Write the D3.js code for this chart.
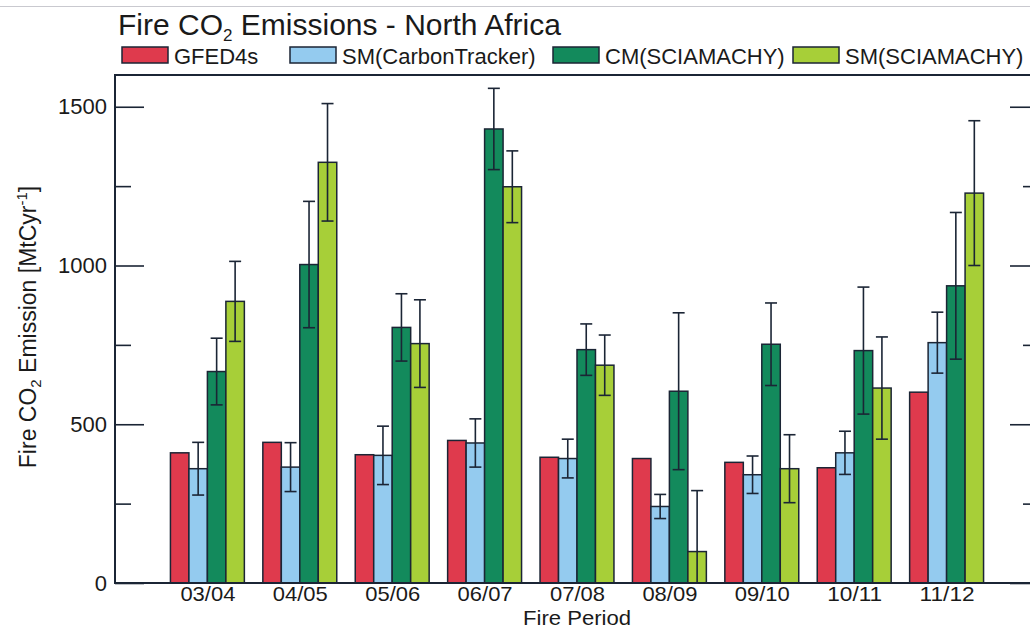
<!DOCTYPE html>
<html>
<head>
<meta charset="utf-8">
<script src="https://cdn.jsdelivr.net/npm/d3@7"></script>
<style>
  html, body { margin: 0; padding: 0; background: #ffffff; }
  svg { display: block; font-family: "Liberation Sans", Arial, Helvetica, sans-serif; }
</style>
</head>
<body>
<svg id="chart" width="1030" height="629"></svg>
<script>
// Fire periods (July–June seasons)
const categories = ["03/04", "04/05", "05/06", "06/07", "07/08", "08/09", "09/10", "10/11", "11/12"];

// Fire CO2 emissions, MtC/yr
const gfed4s       = [410, 443, 404, 449, 396, 392, 380, 363, 601];
const smCT         = [360, 365, 402, 441, 392, 241, 341, 410, 757];
const smCTErr      = [83, 77, 92, 76, 61, 38, 59, 68, 96];
const cmSCIA       = [666, 1003, 805, 1430, 735, 604, 752, 732, 936];
const cmSCIAErr    = [105, 199, 106, 128, 81, 247, 130, 200, 231];
const smSCIA       = [887, 1325, 754, 1248, 686, 99, 360, 614, 1228];
const smSCIAErr    = [126, 185, 138, 113, 95, 192, 107, 161, 228];

const seriesNames  = ["GFED4s", "SM(CarbonTracker)", "CM(SCIAMACHY)", "SM(SCIAMACHY)"];
const majorTicks   = [0, 500, 1000, 1500];
const minorTicks   = [250, 750, 1250];

const series = [
  { name: seriesNames[0], values: gfed4s, errors: null,      color: "#df3a4d" },
  { name: seriesNames[1], values: smCT,   errors: smCTErr,   color: "#94cbef" },
  { name: seriesNames[2], values: cmSCIA, errors: cmSCIAErr, color: "#138a5c" },
  { name: seriesNames[3], values: smSCIA, errors: smSCIAErr, color: "#a7cf38" }
];

const svg = d3.select("#chart");
const frame = { left: 115, right: 1039, top: 75, bottom: 583 };
const ink = "#1b2535";
const textInk = "#1a1a1a";

// x: categories sit at 1..N on a 0..N+1 axis; four bars fill 0.8 of each slot
const x = d3.scaleLinear().domain([0, categories.length + 1]).range([frame.left, frame.right]);
const y = d3.scaleLinear().domain([0, 1600]).range([frame.bottom, frame.top]);
const slot = x(1) - x(0);
const barW = slot * 0.2;

// faint page rule at the very top
svg.append("line")
  .attr("x1", 0).attr("x2", 1030).attr("y1", 6.5).attr("y2", 6.5)
  .attr("stroke", "#c9c9cf").attr("stroke-width", 1);

// title with subscript
const title = svg.append("text")
  .attr("x", 118).attr("y", 35)
  .attr("font-size", 30).attr("fill", textInk);
title.append("tspan").text("Fire CO");
title.append("tspan").attr("font-size", 17).attr("dy", 6).text("2");
title.append("tspan").attr("dy", -6).text(" Emissions - North Africa");

// legend
const legendX = [122, 290, 553, 793];
const legend = svg.append("g");
series.forEach((s, i) => {
  const g = legend.append("g").attr("transform", `translate(${legendX[i]},47)`);
  g.append("rect").attr("width", 46).attr("height", 16)
    .attr("fill", s.color).attr("stroke", ink).attr("stroke-width", 1.5);
  g.append("text").attr("x", 52).attr("y", 17)
    .attr("font-size", 22).attr("fill", textInk).text(s.name);
});

// bars
const groups = svg.append("g");
series.forEach((s, si) => {
  groups.selectAll(null)
    .data(s.values)
    .join("rect")
    .attr("x", (d, i) => x(i + 1) - 2 * barW + si * barW)
    .attr("y", d => y(d))
    .attr("width", barW)
    .attr("height", d => y(0) - y(d))
    .attr("fill", s.color)
    .attr("stroke", ink)
    .attr("stroke-width", 1.5);
});

// error bars
const capHalf = 6;
series.forEach((s, si) => {
  if (!s.errors) return;
  s.values.forEach((v, i) => {
    const cx = x(i + 1) - 2 * barW + si * barW + barW / 2;
    const hi = v + s.errors[i];
    const lo = Math.max(0, v - s.errors[i]);
    const g = svg.append("g").attr("stroke", ink).attr("stroke-width", 1.6);
    g.append("line").attr("x1", cx).attr("x2", cx).attr("y1", y(hi)).attr("y2", y(lo));
    g.append("line").attr("x1", cx - capHalf).attr("x2", cx + capHalf).attr("y1", y(hi)).attr("y2", y(hi));
    if (lo > 0) {
      g.append("line").attr("x1", cx - capHalf).attr("x2", cx + capHalf).attr("y1", y(lo)).attr("y2", y(lo));
    }
  });
});

// frame
svg.append("path")
  .attr("d", `M${frame.right},${frame.top}H${frame.left}V${frame.bottom}H${frame.right}V${frame.top}`)
  .attr("fill", "none").attr("stroke", ink).attr("stroke-width", 2);

// inward ticks on left and right axes
const leftMajor = d3.axisRight(y).tickValues(majorTicks).tickSize(29).tickFormat("");
const leftMinor = d3.axisRight(y).tickValues(minorTicks).tickSize(16).tickFormat("");
const rightMajor = d3.axisLeft(y).tickValues(majorTicks).tickSize(29).tickFormat("");
const rightMinor = d3.axisLeft(y).tickValues(minorTicks).tickSize(16).tickFormat("");
[[leftMajor, frame.left], [leftMinor, frame.left], [rightMajor, frame.right], [rightMinor, frame.right]]
  .forEach(([ax, px]) => {
    const g = svg.append("g").attr("transform", `translate(${px},0)`).call(ax);
    g.select(".domain").remove();
    g.selectAll("line").attr("stroke", ink).attr("stroke-width", 1.6);
  });

// y tick labels
const yLabels = d3.axisLeft(y).tickValues(majorTicks).tickSize(0).tickPadding(8).tickFormat(d3.format("d"));
const yl = svg.append("g").attr("transform", `translate(${frame.left},0)`).call(yLabels);
yl.select(".domain").remove();
yl.selectAll("text").attr("font-size", 22).attr("fill", textInk)
  .attr("font-family", '"Liberation Sans", Arial, sans-serif');

// x tick labels
const xLabels = d3.axisBottom(x)
  .tickValues(d3.range(1, categories.length + 1))
  .tickSize(0).tickPadding(0)
  .tickFormat(d => categories[d - 1]);
const xl = svg.append("g").attr("transform", `translate(0,${frame.bottom})`).call(xLabels);
xl.select(".domain").remove();
xl.selectAll("text").attr("font-size", 21).attr("fill", textInk)
  .attr("dy", null).attr("y", 18)
  .attr("textLength", 55).attr("lengthAdjust", "spacingAndGlyphs")
  .attr("font-family", '"Liberation Sans", Arial, sans-serif');

// axis titles
svg.append("text")
  .attr("x", (frame.left + frame.right) / 2).attr("y", 624.5)
  .attr("text-anchor", "middle").attr("font-size", 20).attr("fill", textInk)
  .attr("textLength", 108).attr("lengthAdjust", "spacingAndGlyphs")
  .text("Fire Period");

const yt = svg.append("text")
  .attr("transform", `translate(36,${(frame.top + frame.bottom) / 2 - 2}) rotate(-90)`)
  .attr("text-anchor", "middle").attr("font-size", 23).attr("fill", textInk);
yt.append("tspan").text("Fire CO");
yt.append("tspan").attr("font-size", 15).attr("dy", 5).text("2");
yt.append("tspan").attr("dy", -5).text(" Emission [MtCyr");
yt.append("tspan").attr("font-size", 15).attr("dy", -9).text("-1");
yt.append("tspan").attr("dy", 9).text("]");
</script>
</body>
</html>
